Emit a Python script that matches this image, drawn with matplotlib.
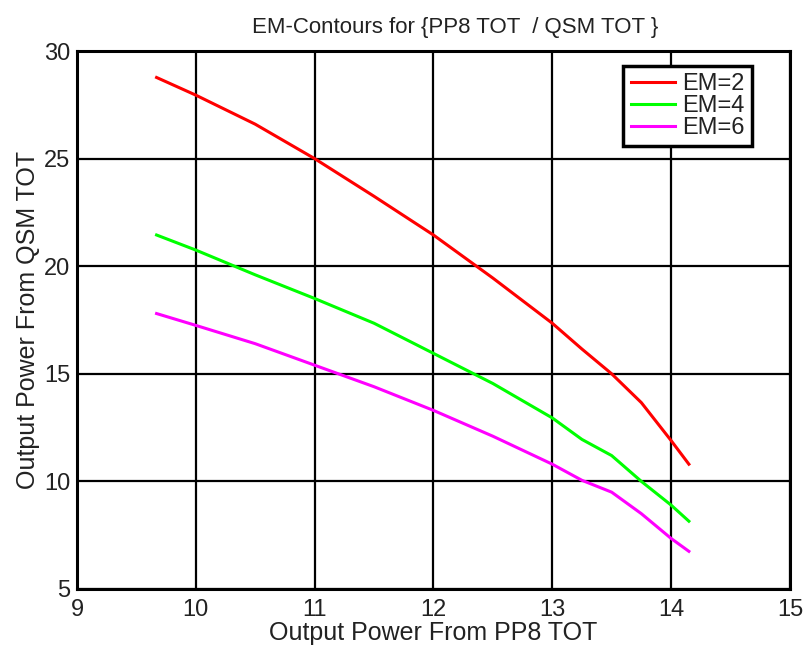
import matplotlib

matplotlib.use("Agg")
import matplotlib.pyplot as plt

plt.rcParams["font.family"] = ["Liberation Sans", "DejaVu Sans"]

# power from PP8 TOT (x), common to all three contours
pp8_tot = [9.67, 10.0, 10.5, 11.0, 11.5, 12.0, 12.5, 13.0, 13.25, 13.5, 13.75, 14.0, 14.15]

# power from QSM TOT for each EM level
em2 = [28.77, 27.95, 26.6, 25.0, 23.25, 21.45, 19.45, 17.35, 16.15, 15.0, 13.66, 11.9, 10.8]
em4 = [21.45, 20.75, 19.6, 18.5, 17.35, 15.95, 14.55, 12.95, 11.95, 11.2, 10.0, 8.9, 8.15]
em6 = [17.8, 17.25, 16.4, 15.4, 14.4, 13.3, 12.1, 10.8, 10.05, 9.5, 8.5, 7.35, 6.75]

x_ticks = [9, 10, 11, 12, 13, 14, 15]
y_ticks = [5, 10, 15, 20, 25, 30]

TXT = "#222222"

fig = plt.figure(figsize=(8.06, 6.54), dpi=100)
ax = fig.add_axes([0.0955, 0.0994, 0.8845, 0.8226])

ax.plot(pp8_tot, em2, color="#ff0000", lw=2.2, label="EM=2", zorder=3)
ax.plot(pp8_tot, em4, color="#00ff00", lw=2.2, label="EM=4", zorder=3)
ax.plot(pp8_tot, em6, color="#ff00ff", lw=2.2, label="EM=6", zorder=3)

ax.set_xlim(9, 15)
ax.set_ylim(5, 30)
ax.set_xticks(x_ticks)
ax.set_yticks(y_ticks)
ax.grid(True, color="black", lw=1.6)
ax.tick_params(length=0, labelsize=17, labelcolor=TXT)
ax.tick_params(axis="x", pad=7)
ax.tick_params(axis="y", pad=5)
for s in ax.spines.values():
    s.set_linewidth(2.2)
    s.set_color("black")

ax.set_title("EM-Contours for {PP8 TOT  / QSM TOT }", fontsize=16, color=TXT,
             x=0.53, pad=13)
ax.set_xlabel("Output Power From PP8 TOT", fontsize=18, color=TXT, labelpad=0)
ax.set_ylabel("Output Power From QSM TOT", fontsize=18, color=TXT, labelpad=3)

leg = ax.legend(loc="upper right", bbox_to_anchor=(0.947, 0.972), fontsize=17,
                frameon=True, fancybox=False, handlelength=1.9, handletextpad=0.3,
                labelspacing=0.0, borderpad=0.3, borderaxespad=0)
leg.get_frame().set_edgecolor("black")
leg.get_frame().set_linewidth(2.5)
leg.get_frame().set_alpha(1)
for t in leg.get_texts():
    t.set_color(TXT)

fig.savefig("out.png", dpi=100)
